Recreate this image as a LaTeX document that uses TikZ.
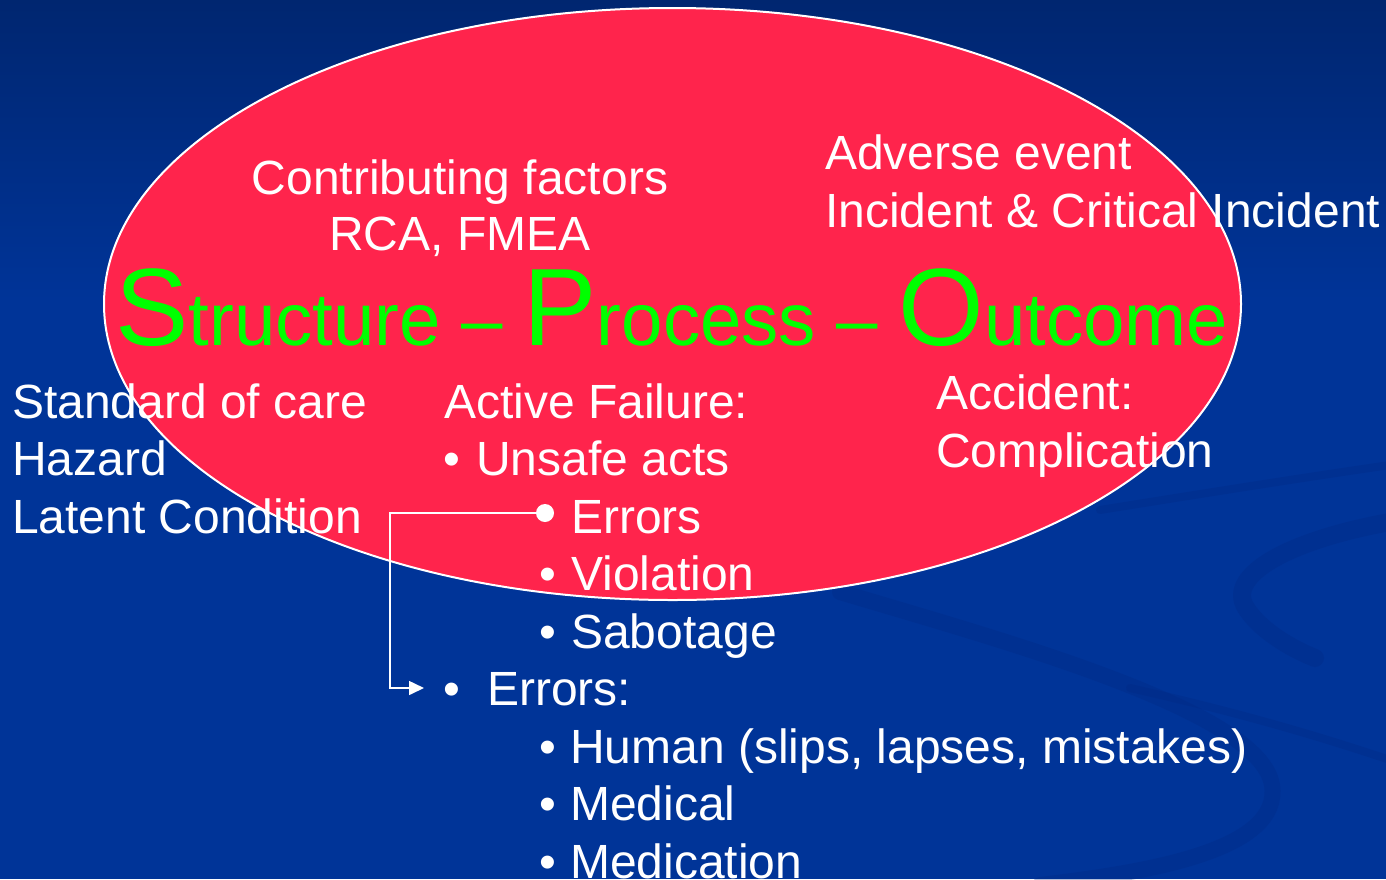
\documentclass[tikz,border=0pt]{standalone}
\usepackage{fontspec}
\setmainfont{Liberation Sans}
\usetikzlibrary{arrows.meta,shapes.geometric}
\definecolor{bgtop}{RGB}{0,38,112}
\definecolor{bgbot}{RGB}{0,52,152}
\definecolor{swirl}{RGB}{0,40,130}
\definecolor{ovalred}{RGB}{255,36,76}
\definecolor{titlegreen}{RGB}{0,255,0}
\tikzset{
  txt/.style={text=white, inner sep=0pt, anchor=base west, font=\fontsize{48}{57.5}\selectfont},
  ctxt/.style={txt, anchor=base},
  bul/.style={txt, anchor=base},
  band/.style={draw=swirl, opacity=0.3, line cap=round},
}
\begin{document}
\begin{tikzpicture}[x=1pt,y=-1pt]
\useasboundingbox (0,0) rectangle (1386,879);
% background
\shade[top color=bgtop, bottom color=bgbot] (0,0) rectangle (1386,300);
\fill[bgbot] (0,299) rectangle (1386,879);
% faint swirls
\draw[band, line width=16] (840,592) .. controls (1000,640) and (1260,710) .. (1272,785) .. controls (1282,850) and (1150,872) .. (1040,885);
\draw[band, line width=18] (1390,522) .. controls (1290,540) and (1225,575) .. (1246,608) .. controls (1260,630) and (1290,648) .. (1315,658);
\draw[band, line width=8] (1100,510) .. controls (1200,494) and (1300,478) .. (1390,465);
\draw[band, line width=8] (1130,688) .. controls (1250,715) and (1330,740) .. (1390,760);
% oval
\node[draw=white, line width=2pt, fill=ovalred, ellipse, inner sep=0pt, minimum width=1137pt, minimum height=592pt] (oval) at (672.5,304) {};
% title
\node[inner sep=0pt, anchor=base west, text=titlegreen] (title) at (115,345)
  {{\fontsize{110}{110}\selectfont S}{\fontsize{74.4}{75}\selectfont tructure – }{\fontsize{110}{110}\selectfont P}{\fontsize{74.4}{75}\selectfont rocess – }{\fontsize{110}{110}\selectfont O}{\fontsize{74.4}{75}\selectfont utcome}};
% upper texts
\node[ctxt] (contrib) at (460,194) {Contributing factors};
\node[ctxt] (rca) at (460,250) {RCA, FMEA};
\node[txt] (adverse) at (825,169) {Adverse event};
\node[txt] (incident) at (825,227) {Incident \& Critical Incident};
% left column
\node[txt] (standard) at (12,418) {Standard of care};
\node[txt] (hazard) at (12,475.5) {Hazard};
\node[txt] (latent) at (12,533) {Latent Condition};
% right
\node[txt] (accident) at (936,409) {Accident:};
\node[txt] (complic) at (936,467) {Complication};
% middle list
\node[txt] (active) at (444,418) {Active Failure:};
\node[bul] (b1) at (452,475.5) {•};
\node[txt] (unsafe) at (476,475.5) {Unsafe acts};
\node[txt] (errors1) at (571,533) {Errors};
\node[bul] (b3) at (548,590.5) {•};
\node[txt] (violation) at (571,590.5) {Violation};
\node[bul] (b4) at (548,648) {•};
\node[txt] (sabotage) at (571,648) {Sabotage};
\node[bul] (b5) at (452,705.5) {•};
\node[txt] (errors2) at (487,705.5) {Errors:};
\node[bul] (b6) at (548,763) {•};
\node[txt] (human) at (570,763) {Human (slips, lapses, mistakes)};
\node[bul] (b7) at (548,820.5) {•};
\node[txt] (medical) at (570,820.5) {Medical};
\node[bul] (b8) at (548,878) {•};
\node[txt] (medication) at (570,878) {Medication};
% connector
\node[circle, fill=white, inner sep=0pt, minimum size=18pt] (errdot) at (545,513) {};
\coordinate (elbow) at (390,513);
\coordinate (tip) at (424,688);
\draw[white, line width=1.6pt, -{Triangle[length=15pt,width=14pt]}] (errdot.center) -- (elbow) |- (tip);
\end{tikzpicture}
\end{document}
